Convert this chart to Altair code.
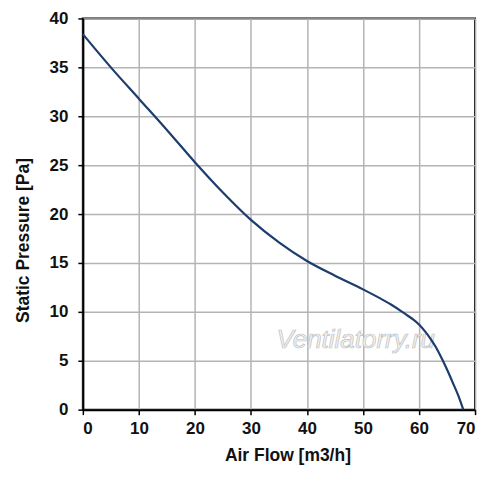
import altair as alt
import pandas as pd

air_flow = [0, 5, 10, 15, 20, 25, 30, 35, 40, 45, 50, 53, 55, 57, 58, 59, 60, 61, 62, 63, 64, 65, 66, 67, 67.9]
pressure = [38.4, 35.0, 31.8, 28.6, 25.3, 22.2, 19.4, 17.1, 15.2, 13.7, 12.3, 11.4, 10.75, 10.0, 9.6, 9.2, 8.7, 8.05, 7.3, 6.4, 5.3, 4.1, 2.8, 1.45, 0.0]

x_ticks = [0, 10, 20, 30, 40, 50, 60, 70]
y_ticks = [0, 5, 10, 15, 20, 25, 30, 35, 40]

watermark_text = ["Ventilatorry.ru"]
watermark_x = [48.7]
watermark_y = [6.3]

df = pd.DataFrame({"flow": air_flow, "pressure": pressure})
wm = pd.DataFrame({"t": watermark_text, "x": watermark_x, "y": watermark_y})

FONT = "Liberation Sans"

x_enc = alt.X("flow:Q", scale=alt.Scale(domain=[0, 70], nice=False),
              axis=alt.Axis(values=x_ticks, title="Air Flow [m3/h]", titleX=205))
y_enc = alt.Y("pressure:Q", scale=alt.Scale(domain=[0, 40], nice=False),
              axis=alt.Axis(values=y_ticks, title="Static Pressure [Pa]", titleY=222))

line = alt.Chart(df).mark_line(color="#1c3d6e", strokeWidth=2.2, interpolate="monotone").encode(
    x=x_enc, y=y_enc
)

text = alt.Chart(wm).mark_text(
    font="Liberation Sans", fontSize=26, fontStyle="italic", baseline="alphabetic",
    color="#f3f3f3", stroke="#c0c0c0", strokeWidth=0.7
).encode(x="x:Q", y="y:Q", text="t:N")

chart = alt.layer(text, line).properties(
    width=393, height=392,
    autosize=alt.AutoSizeParams(type="none"),
    padding={"left": 75, "top": 10, "right": 17, "bottom": 62},
).configure_view(
    stroke="black", strokeWidth=2
).configure_axis(
    grid=True, gridColor="#b4b4b4", gridWidth=1.5,
    domainColor="black", domainWidth=2,
    tickColor="black", tickSize=5, tickWidth=1.5,
    labelFont=FONT, labelFontSize=17, labelFontWeight="bold", labelColor="#111",
    titleFont=FONT, titleFontSize=17.5, titleFontWeight="bold", titleColor="#111",
).configure_axisX(
    labelPadding=6, titlePadding=10
).configure_axisY(
    labelPadding=10, titlePadding=17
)

chart.save("out.html", embed_options={"renderer": "svg", "actions": False})
